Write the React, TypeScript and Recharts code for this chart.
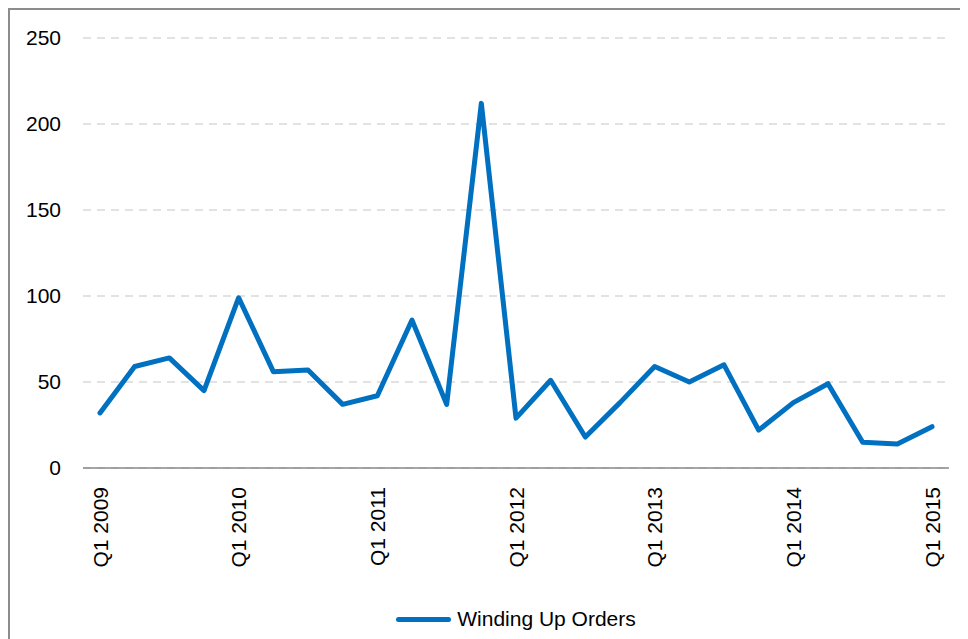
import { CartesianGrid, Legend, Line, LineChart, XAxis, YAxis } from "recharts";

const quarters = [
  "Q1 2009", "Q2 2009", "Q3 2009", "Q4 2009",
  "Q1 2010", "Q2 2010", "Q3 2010", "Q4 2010",
  "Q1 2011", "Q2 2011", "Q3 2011", "Q4 2011",
  "Q1 2012", "Q2 2012", "Q3 2012", "Q4 2012",
  "Q1 2013", "Q2 2013", "Q3 2013", "Q4 2013",
  "Q1 2014", "Q2 2014", "Q3 2014", "Q4 2014",
  "Q1 2015",
];

const windingUpOrders = [
  32, 59, 64, 45, 99, 56, 57, 37, 42, 86, 37, 212, 29, 51, 18, 38, 59, 50,
  60, 22, 38, 49, 15, 14, 24,
];

const yTicks = [0, 50, 100, 150, 200, 250];

const FONT = "'Liberation Sans', Arial, sans-serif";
const BLUE = "#0070c0";

const data = quarters.map((q, i) => ({ quarter: q, orders: windingUpOrders[i] }));

// eslint-disable-next-line @typescript-eslint/no-explicit-any
function QuarterTick(props: any) {
  const { x, y, payload } = props;
  return (
    <text
      x={x}
      y={y}
      transform={`rotate(-90, ${x}, ${y})`}
      textAnchor="end"
      dominantBaseline="central"
      fill="#000"
      fontSize={21}
      fontFamily={FONT}
    >
      {payload.value}
    </text>
  );
}

function LegendContent() {
  return (
    <div
      style={{
        height: 40,
        display: "flex",
        alignItems: "center",
        justifyContent: "center",
        fontFamily: FONT,
        fontSize: 21,
        color: "#000",
      }}
    >
      <span
        style={{
          display: "inline-block",
          width: 55,
          height: 5,
          borderRadius: 3,
          background: BLUE,
          marginRight: 6,
        }}
      />
      <span>Winding Up Orders</span>
    </div>
  );
}

export default function App() {
  return (
    <div style={{ width: 960, height: 631, overflow: "hidden", background: "#fff" }}>
      <div
        style={{
          width: 1012,
          height: 629,
          borderTop: "2px solid #8c8c8c",
          borderLeft: "2px solid #8c8c8c",
        }}
      >
        <LineChart
          width={1012}
          height={629}
          data={data}
          margin={{ top: 28, right: 73, left: 13, bottom: 0 }}
        >
          <CartesianGrid
            vertical={false}
            stroke="#d9d9d9"
            strokeWidth={1.5}
            strokeDasharray="8 6"
          />
          <XAxis
            dataKey="quarter"
            interval={3}
            height={131}
            padding={{ left: 17, right: 17 }}
            tickSize={0}
            tickMargin={19}
            axisLine={{ stroke: "#898989", strokeWidth: 1.5 }}
            tick={<QuarterTick />}
          />
          <YAxis
            domain={[0, 250]}
            ticks={yTicks}
            width={60}
            axisLine={false}
            tickLine={false}
            tickSize={0}
            tickMargin={22}
            tick={{ fill: "#000", fontSize: 21, fontFamily: FONT }}
          />
          <Legend
            verticalAlign="bottom"
            content={<LegendContent />}
            wrapperStyle={{ left: 0, width: 1012 }}
          />
          <Line
            type="linear"
            dataKey="orders"
            name="Winding Up Orders"
            stroke={BLUE}
            strokeWidth={5}
            strokeLinejoin="round"
            strokeLinecap="round"
            dot={false}
            activeDot={false}
            isAnimationActive={false}
          />
        </LineChart>
      </div>
    </div>
  );
}
